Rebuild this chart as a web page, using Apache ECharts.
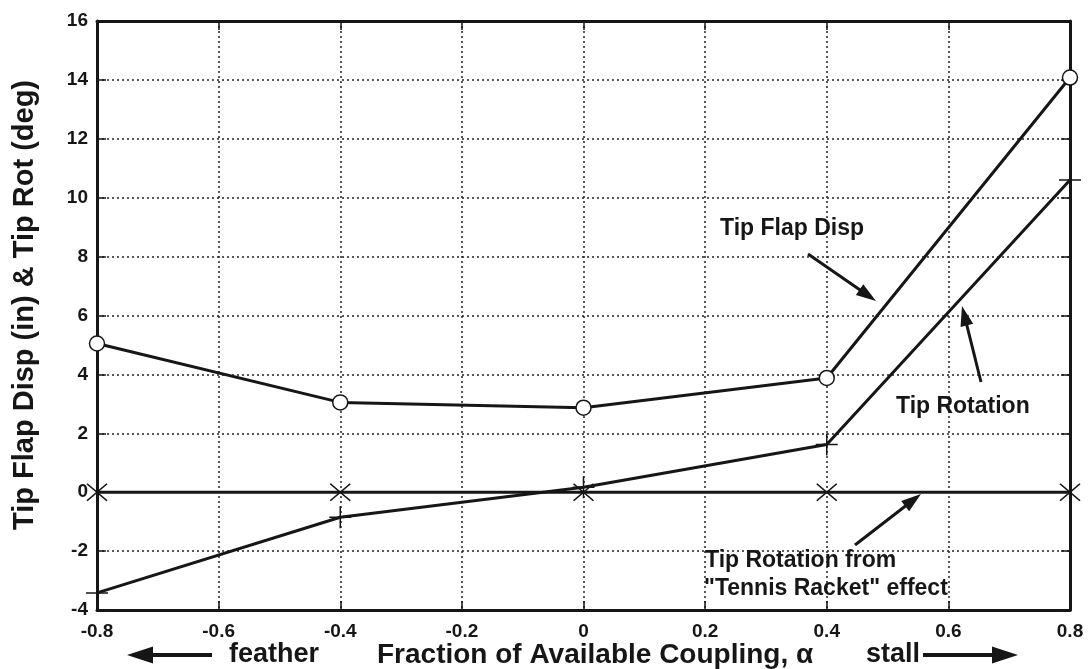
<!DOCTYPE html>
<html><head><meta charset="utf-8">
<script src="https://cdn.jsdelivr.net/npm/echarts@6/dist/echarts.min.js"></script>
<style>html,body{margin:0;padding:0;background:#fff}#c{width:1090px;height:669px}</style>
</head><body><div id="c"></div>
<script>
const alpha = [-0.8, -0.4, 0, 0.4, 0.8];
const tipFlapDisp = [5.05, 3.05, 2.87, 3.88, 14.08];
const tipRotation = [-3.42, -0.85, 0.17, 1.62, 10.6];
const tennisRacket = [0, 0, 0, 0, 0];
const yAxisTitle = 'Tip Flap Disp (in) & Tip Rot (deg)';
const xAxisTitle = 'Fraction of Available Coupling, \u03b1';

const FONT = '"Liberation Sans", Arial, sans-serif';
const INK = '#161616';
const pairs = (ys) => alpha.map((x, i) => [x, ys[i]]);

function arrow(x1, y1, x2, y2, w, hl, hw) {
  const dx = x2 - x1, dy = y2 - y1, L = Math.hypot(dx, dy);
  const ux = dx / L, uy = dy / L, px = -uy, py = ux;
  const bx = x2 - ux * hl, by = y2 - uy * hl;
  return [
    { type: 'line', shape: { x1, y1, x2: bx + ux * 2, y2: by + uy * 2 }, style: { stroke: INK, lineWidth: w }, z: 100 },
    { type: 'polygon', shape: { points: [[x2, y2], [bx + px * hw / 2, by + py * hw / 2], [bx - px * hw / 2, by - py * hw / 2]] }, style: { fill: INK }, z: 100 }
  ];
}
function txt(x, y, s, size, align, rot) {
  return { type: 'text', x, y, z: 100, rotation: rot || 0,
    style: { text: s, font: 'bold ' + size + 'px ' + FONT, fill: INK, textAlign: align || 'left', textVerticalAlign: 'middle' } };
}

const chart = echarts.init(document.getElementById('c'), null, { renderer: 'canvas' });
const splitDots = { show: true, lineStyle: { color: '#222', width: 1.5, type: [2, 3] } };
const axisLine = { show: true, onZero: false, lineStyle: { color: INK, width: 3 } };
const ticks = { show: true, inside: true, length: 9, lineStyle: { color: INK, width: 1.5 } };
const labelStyle = { fontFamily: FONT, fontWeight: 'bold', fontSize: 19, color: INK };

chart.setOption({
  backgroundColor: '#fff',
  animation: false,
  grid: { left: 97, right: 20, top: 21, bottom: 59 },
  xAxis: [
    { type: 'value', min: -0.8, max: 0.8, interval: 0.2, position: 'bottom',
      axisLine, axisTick: ticks, splitLine: splitDots,
      axisLabel: Object.assign({ margin: 12, formatter: v => String(+v.toFixed(1)) }, labelStyle) },
    { type: 'value', min: -0.8, max: 0.8, interval: 0.2, position: 'top',
      axisLine, axisTick: ticks, splitLine: { show: false }, axisLabel: { show: false } }
  ],
  yAxis: [
    { type: 'value', min: -4, max: 16, interval: 2, position: 'left',
      axisLine, axisTick: ticks, splitLine: splitDots,
      axisLabel: Object.assign({ margin: 9 }, labelStyle) },
    { type: 'value', min: -4, max: 16, interval: 2, position: 'right',
      axisLine, axisTick: ticks, splitLine: { show: false }, axisLabel: { show: false } }
  ],
  series: [
    { name: 'Tip Flap Disp', type: 'line', data: pairs(tipFlapDisp), clip: false, z: 5,
      lineStyle: { color: INK, width: 3 }, symbol: 'circle', symbolSize: 15,
      itemStyle: { color: '#fff', borderColor: INK, borderWidth: 1.5 } },
    { name: 'Tip Rotation', type: 'line', data: pairs(tipRotation), clip: false, z: 4,
      lineStyle: { color: INK, width: 3 }, symbol: 'path://M-10,0L10,0M0,-10L0,10', symbolSize: 22,
      itemStyle: { color: 'rgba(0,0,0,0)', borderColor: INK, borderWidth: 1.5 } },
    { name: 'Tennis Racket', type: 'line', data: pairs(tennisRacket), clip: false, z: 3,
      lineStyle: { color: INK, width: 3 }, symbol: 'path://M-10,-10L10,10M-10,10L10,-10', symbolSize: [20, 17],
      itemStyle: { color: 'rgba(0,0,0,0)', borderColor: INK, borderWidth: 1.5 } }
  ],
  graphic: [].concat(
    [txt(25, 305, yAxisTitle, 29, 'center', Math.PI / 2)],
    arrow(212, 655, 127, 655, 4, 26, 17),
    [txt(229, 655, 'feather', 27), txt(377, 655, xAxisTitle, 28), txt(866, 655, 'stall', 27)],
    arrow(923, 655, 1018, 655, 4, 26, 17),
    [txt(720, 229, 'Tip Flap Disp', 23)],
    arrow(808, 254, 876, 301, 3, 20, 13),
    [txt(896, 407, 'Tip Rotation', 23)],
    arrow(981, 382, 962, 306, 3, 20, 13),
    [txt(705, 561, 'Tip Rotation from', 23), txt(704, 589, '"Tennis Racket" effect', 23)],
    arrow(855, 545, 921, 494, 3, 20, 13)
  )
});
</script></body></html>
